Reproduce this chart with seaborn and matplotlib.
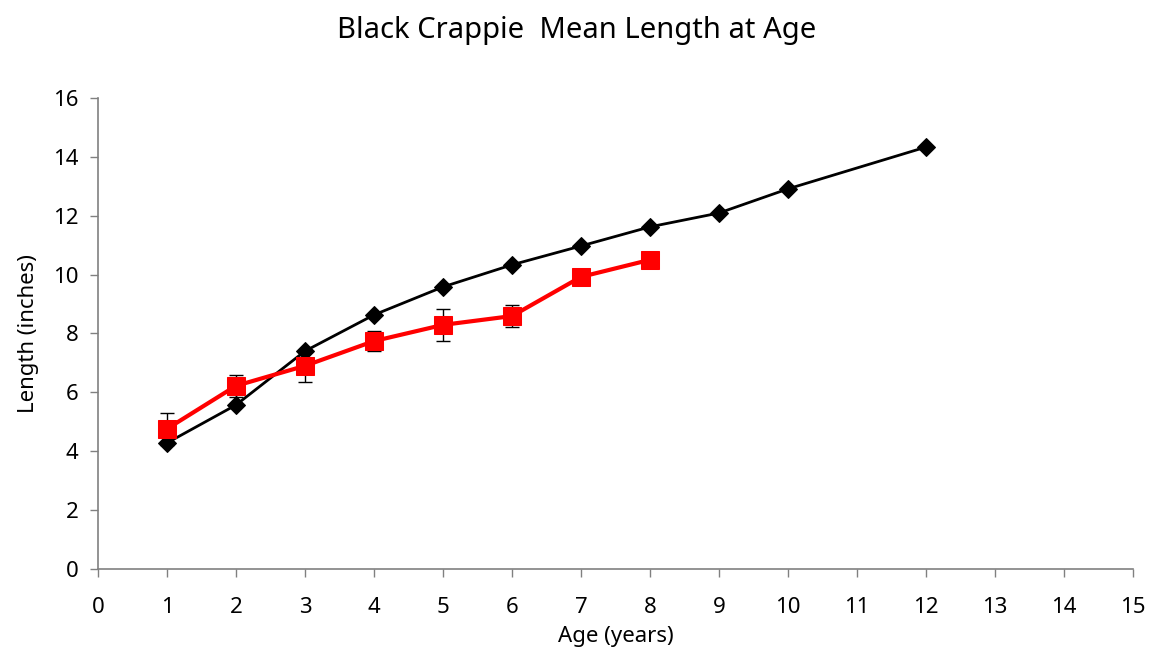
import matplotlib
matplotlib.use("Agg")
import matplotlib.pyplot as plt
import seaborn as sns
import pandas as pd

# Mean length at age (inches)
ages_state = [1, 2, 3, 4, 5, 6, 7, 8, 9, 10, 12]
length_state = [4.28, 5.57, 7.40, 8.63, 9.58, 10.33, 10.97, 11.62, 12.09, 12.91, 14.33]

ages_lake = [1, 2, 3, 4, 5, 6, 7, 8]
length_lake = [4.76, 6.22, 6.90, 7.74, 8.29, 8.59, 9.92, 10.50]
length_lake_err = [0.55, 0.38, 0.54, 0.34, 0.54, 0.36, 0.2, 0.2]

x_ticks = list(range(0, 16))
y_ticks = list(range(0, 17, 2))

sns.set_theme(style="white")
plt.rcParams["font.family"] = ["Noto Sans", "DejaVu Sans"]
plt.rcParams["text.color"] = "black"
plt.rcParams["axes.labelcolor"] = "black"

df_state = pd.DataFrame({"age": ages_state, "length": length_state})
df_lake = pd.DataFrame({"age": ages_lake, "length": length_lake})

fig = plt.figure(figsize=(11.54, 6.57), dpi=100)
ax = fig.add_axes([0.0849, 0.134, 0.8969, 0.717])

ax.errorbar(ages_lake, length_lake, yerr=length_lake_err, fmt="none",
            ecolor="black", elinewidth=1, capsize=5, capthick=1, zorder=2)

sns.lineplot(data=df_state, x="age", y="length", ax=ax, color="black",
             linewidth=2, marker="D", markersize=9, markeredgecolor="black",
             zorder=3)
sns.lineplot(data=df_lake, x="age", y="length", ax=ax, color="#ff0000",
             linewidth=3, marker="s", markersize=13, markeredgecolor="#ff0000",
             zorder=4)

ax.set_xlim(0, 15)
ax.set_ylim(0, 16)
ax.set_xticks(x_ticks)
ax.set_yticks(y_ticks)
ax.tick_params(axis="both", direction="out", length=6, width=1, color="#808080",
               labelsize=16, labelcolor="black", bottom=True, left=True, pad=8)
ax.tick_params(axis="x", pad=14)
for side in ["top", "right"]:
    ax.spines[side].set_visible(False)
for side in ["left", "bottom"]:
    ax.spines[side].set_color("#808080")
    ax.spines[side].set_linewidth(1.2)

ax.set_xlabel("Age (years)", fontsize=16, labelpad=6)
ax.set_ylabel("Length (inches)", fontsize=16, labelpad=10)
fig.suptitle("Black Crappie  Mean Length at Age", fontsize=21, y=0.975)

fig.savefig("out.png", dpi=100)
